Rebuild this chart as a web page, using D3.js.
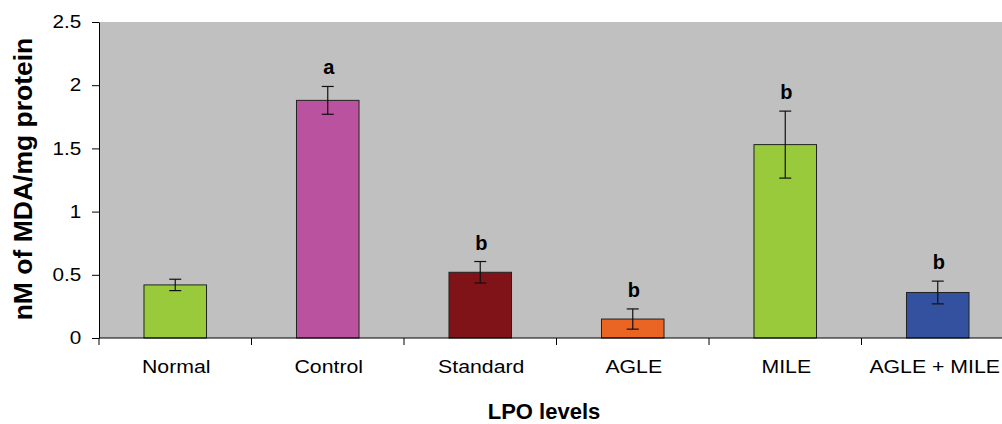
<!DOCTYPE html>
<html>
<head>
<meta charset="utf-8">
<script src="https://cdn.jsdelivr.net/npm/d3@7"></script>
<style>
  body { margin: 0; background: #fff; }
  svg { font-family: "Liberation Sans", Arial, sans-serif; display: block; }
</style>
</head>
<body>
<div id="chart"></div>
<script>
// data
var groups = ["Normal", "Control", "Standard", "AGLE", "MILE", "AGLE + MILE"];
var means = [0.42, 1.88, 0.52, 0.15, 1.53, 0.36];
var errors = [0.045, 0.11, 0.085, 0.08, 0.265, 0.09];
var letters = ["", "a", "b", "b", "b", "b"];
var colors = ["#99CA3C", "#BB529F", "#7F1318", "#EA6423", "#99CA3C", "#34519F"];
var yTicks = [0, 0.5, 1, 1.5, 2, 2.5];

var margin = { top: 22, right: 0, bottom: 86, left: 99 },
  width = 915,
  height = 424 - margin.top - margin.bottom;

// the plain text in the picture is a bit wider than normal Arial
var stretch = 1.15;

var svg = d3.select("#chart")
  .append("svg")
  .attr("width", 1002)
  .attr("height", 424)
  .append("g")
  .attr("transform", "translate(" + margin.left + "," + margin.top + ")");

svg.append("rect")
  .attr("width", width)
  .attr("height", height)
  .attr("fill", "#C0C0C0");

var x = d3.scaleBand().domain(groups).range([0, width]).paddingInner(0).paddingOuter(0);
var y = d3.scaleLinear().domain([0, 2.5]).range([height, 0]);
var barW = x.bandwidth() * 0.41;

// bars
svg.append("g")
  .selectAll("rect")
  .data(groups)
  .enter()
  .append("rect")
  .attr("x", function (d) { return x(d) + x.bandwidth() / 2 - barW / 2; })
  .attr("y", function (d, i) { return y(means[i]); })
  .attr("width", barW)
  .attr("height", function (d, i) { return height - y(means[i]); })
  .attr("fill", function (d, i) { return colors[i]; })
  .attr("stroke", "#222")
  .attr("stroke-width", 1);

// error bars + letters
var eb = svg.append("g").attr("stroke", "#111").attr("stroke-width", 1.2);
groups.forEach(function (g, i) {
  var cx = x(g) + x.bandwidth() / 2;
  var top = y(means[i] + errors[i]), bot = y(means[i] - errors[i]);
  eb.append("line").attr("x1", cx).attr("x2", cx).attr("y1", top).attr("y2", bot);
  eb.append("line").attr("x1", cx - 6).attr("x2", cx + 6).attr("y1", top).attr("y2", top);
  eb.append("line").attr("x1", cx - 6).attr("x2", cx + 6).attr("y1", bot).attr("y2", bot);
  if (letters[i]) {
    svg.append("text")
      .attr("x", cx + 1)
      .attr("y", top - 12)
      .attr("text-anchor", "middle")
      .style("font-size", "20px")
      .style("font-weight", "bold")
      .text(letters[i]);
  }
});

// Y axis
var yAxis = svg.append("g")
  .call(d3.axisLeft(y).tickValues(yTicks).tickFormat(d3.format("")).tickSizeInner(7).tickSizeOuter(0));
yAxis.selectAll("text")
  .style("font-size", "18px")
  .attr("fill", "#000")
  .attr("x", -15.5)
  .attr("transform", "scale(" + stretch + ",1)");
yAxis.selectAll("line, path").attr("stroke", "#000");

// X axis line + boundary ticks
var xAxisG = svg.append("g").attr("transform", "translate(0," + height + ")");
xAxisG.append("line").attr("x1", 0).attr("x2", width).attr("stroke", "#000");
xAxisG.selectAll(".bt")
  .data(groups)
  .enter()
  .append("line")
  .attr("x1", function (d) { return x(d); })
  .attr("x2", function (d) { return x(d); })
  .attr("y1", 0).attr("y2", 7)
  .attr("stroke", "#000");
xAxisG.selectAll(".lbl")
  .data(groups)
  .enter()
  .append("text")
  .attr("text-anchor", "middle")
  .style("font-size", "18.5px")
  .text(function (d) { return d; })
  .attr("transform", function (d) {
    // keep the last label inside the window, as in the picture
    var half = this.getComputedTextLength() * stretch / 2;
    var cx = Math.min(x(d) + x.bandwidth() / 2 + 1, 1000 - margin.left - half);
    return "translate(" + cx + ",35) scale(" + stretch + ",1)";
  });

// axis titles
svg.append("text")
  .attr("x", 544 - margin.left)
  .attr("y", 419 - margin.top)
  .attr("text-anchor", "middle")
  .style("font-size", "22px")
  .style("font-weight", "bold")
  .text("LPO levels");

svg.append("text")
  .attr("transform", "rotate(-90)")
  .attr("x", -(179 - margin.top))
  .attr("y", 32 - margin.left)
  .attr("text-anchor", "middle")
  .style("font-size", "26.5px")
  .style("font-weight", "bold")
  .text("nM of MDA/mg protein");
</script>
</body>
</html>
